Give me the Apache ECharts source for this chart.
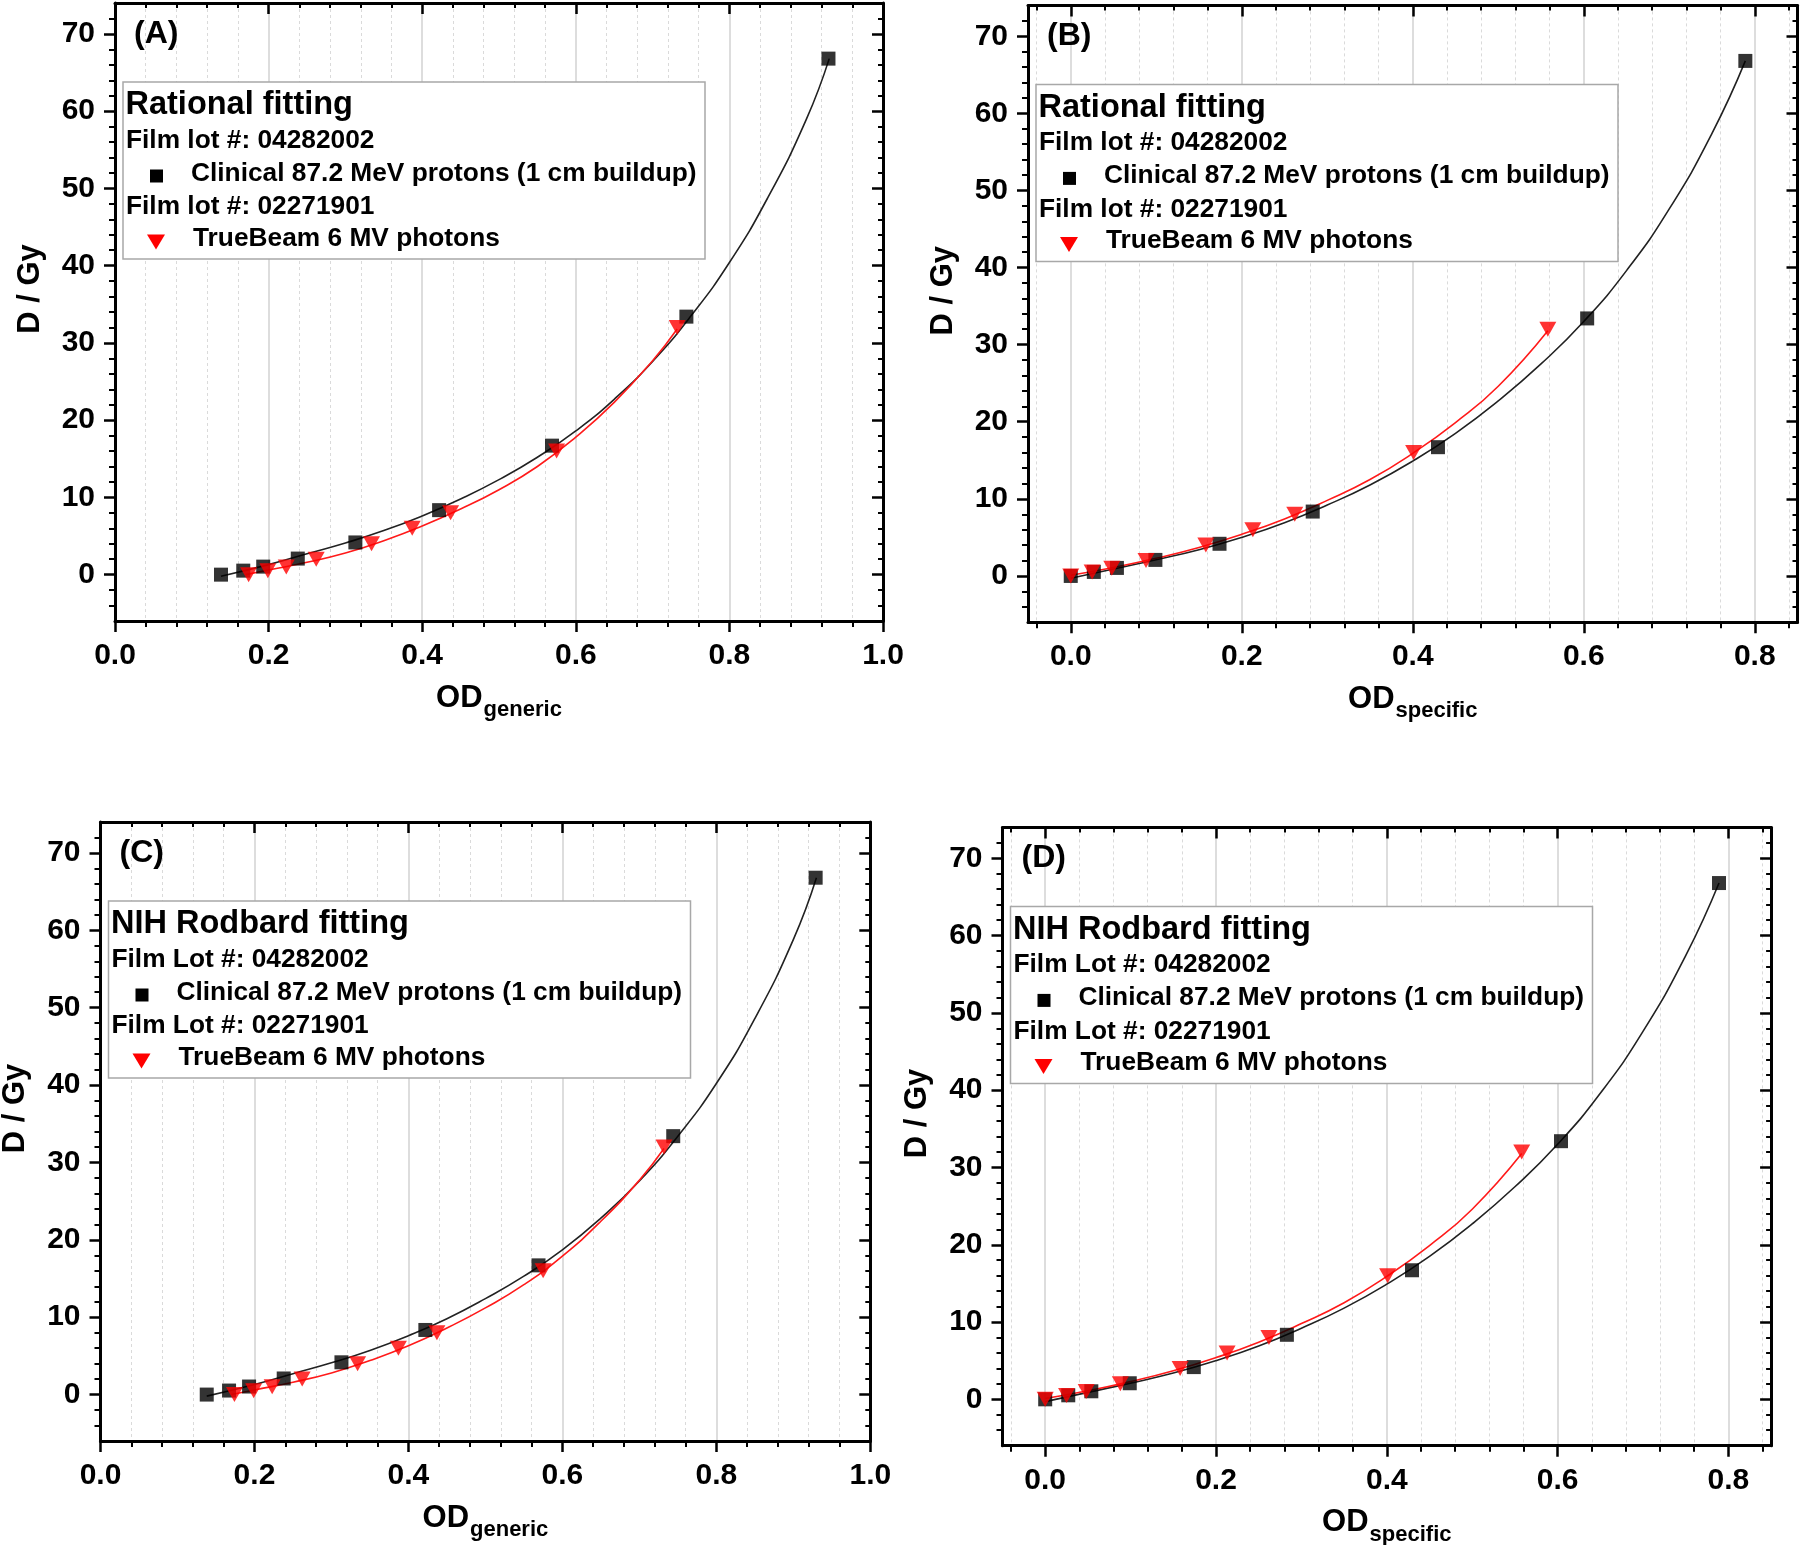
<!DOCTYPE html>
<html>
<head>
<meta charset="utf-8">
<script src="https://cdn.jsdelivr.net/npm/echarts@6/dist/echarts.min.js"></script>
<style>
html,body{margin:0;padding:0;background:#fff;}
#c{width:1800px;height:1545px;}
</style>
</head>
<body>
<div id="c"></div>
<script>
// ---------------- DATA ----------------
// Doses (Gy)
const protonDose = [0, 0.52, 1.04, 2.08, 4.17, 8.35, 16.7, 33.4, 66.8];
const photonDose = [0, 0.5, 1, 2, 4, 6, 8, 16, 32];

// Optical densities
const protonODGeneric  = [0.138, 0.167, 0.193, 0.238, 0.313, 0.422, 0.569, 0.744, 0.929];
const photonODGeneric  = [0.174, 0.199, 0.223, 0.262, 0.334, 0.387, 0.437, 0.575, 0.732];
const protonODSpecific = [0.0, 0.027, 0.054, 0.099, 0.174, 0.283, 0.4295, 0.604, 0.789];
const photonODSpecific = [0.0, 0.025, 0.048, 0.088, 0.158, 0.213, 0.262, 0.401, 0.558];

// Fitted curves
// (A) rational fit, generic OD
const fitA_protonOD = [0.138, 0.2, 0.25, 0.3, 0.35, 0.4, 0.45, 0.5, 0.55, 0.6, 0.65, 0.7, 0.75, 0.8, 0.85, 0.9, 0.93];
const fitA_protonD  = [-0.2, 1.3, 2.7, 4.1, 5.7, 7.6, 9.8, 12.3, 15.2, 18.6, 22.7, 27.6, 33.5, 40.4, 48.8, 58.9, 66.8];
const fitA_photonOD = [0.17, 0.2, 0.25, 0.3, 0.35, 0.4, 0.45, 0.5, 0.55, 0.6, 0.65, 0.7, 0.732];
const fitA_photonD  = [0.0, 0.6, 1.6, 2.8, 4.4, 6.3, 8.5, 11.0, 14.0, 17.8, 22.3, 27.7, 31.8];
// (B) rational fit, specific OD
const fitB_protonOD = [0.0, 0.05, 0.1, 0.15, 0.2, 0.25, 0.3, 0.35, 0.4, 0.45, 0.5, 0.55, 0.6, 0.65, 0.7, 0.75, 0.789];
const fitB_protonD  = [-0.3, 0.9, 2.1, 3.4, 5.0, 6.9, 9.2, 11.8, 14.9, 18.5, 22.7, 27.5, 33.0, 39.6, 47.6, 57.4, 66.8];
const fitB_photonOD = [0.0, 0.05, 0.1, 0.15, 0.2, 0.25, 0.3, 0.35, 0.4, 0.45, 0.5, 0.558];
const fitB_photonD  = [0.1, 1.1, 2.3, 3.7, 5.4, 7.4, 9.8, 12.5, 15.9, 19.9, 24.6, 31.8];
// (C) NIH Rodbard fit, generic OD
const fitC_protonOD = [0.138, 0.2, 0.25, 0.3, 0.35, 0.4, 0.45, 0.5, 0.55, 0.6, 0.65, 0.7, 0.75, 0.8, 0.85, 0.9, 0.93];
const fitC_protonD  = [-0.2, 1.3, 2.7, 4.1, 5.7, 7.6, 9.8, 12.4, 15.3, 18.7, 22.8, 27.6, 33.4, 40.2, 48.6, 58.8, 66.8];
const fitC_photonOD = [0.17, 0.2, 0.25, 0.3, 0.35, 0.4, 0.45, 0.5, 0.55, 0.6, 0.65, 0.7, 0.732];
const fitC_photonD  = [0.0, 0.6, 1.6, 2.8, 4.4, 6.3, 8.6, 11.2, 14.2, 17.9, 22.4, 27.7, 31.8];
// (D) NIH Rodbard fit, specific OD
const fitD_protonOD = [0.0, 0.05, 0.1, 0.15, 0.2, 0.25, 0.3, 0.35, 0.4, 0.45, 0.5, 0.55, 0.6, 0.65, 0.7, 0.75, 0.789];
const fitD_protonD  = [-0.3, 0.9, 2.1, 3.4, 5.0, 6.9, 9.2, 11.8, 14.9, 18.5, 22.7, 27.5, 33.0, 39.6, 47.6, 57.4, 66.8];
const fitD_photonOD = [0.0, 0.05, 0.1, 0.15, 0.2, 0.25, 0.3, 0.35, 0.4, 0.45, 0.5, 0.558];
const fitD_photonD  = [0.1, 1.1, 2.3, 3.7, 5.4, 7.4, 9.8, 12.5, 15.9, 19.9, 24.6, 31.8];

// Axis ranges and tick labels
const xRangeGeneric  = [0, 1.0];
const xRangeSpecific = [-0.05, 0.85];
const yRange = [-6, 74];
const xMajorGeneric  = [0, 0.2, 0.4, 0.6, 0.8, 1.0];
const xMajorSpecific = [0, 0.2, 0.4, 0.6, 0.8];
const yMajor = [0, 10, 20, 30, 40, 50, 60, 70];

// Texts
const panelLabels = ['(A)', '(B)', '(C)', '(D)'];
const fitTitles = ['Rational fitting', 'Rational fitting', 'NIH Rodbard fitting', 'NIH Rodbard fitting'];
const lotPrefix = ['Film lot #: ', 'Film lot #: ', 'Film Lot #: ', 'Film Lot #: '];
const lotProton = '04282002';
const lotPhoton = '02271901';
const protonName = 'Clinical 87.2 MeV protons (1 cm buildup)';
const photonName = 'TrueBeam 6 MV photons';
const yTitle = 'D / Gy';
const xSubs = ['generic', 'specific', 'generic', 'specific'];

// ---------------- LAYOUT ----------------
const FONT = "'Liberation Sans', Arial, Helvetica, sans-serif";
const layouts = [
  {left: 115,    top: 3,     width: 768,   height: 618},
  {left: 1028,   top: 5.4,   width: 769.5, height: 616.8},
  {left: 100.5,  top: 822,   width: 769.8, height: 619},
  {left: 1002.5, top: 827.4, width: 768.6, height: 618.3}
];

const panels = [
  {xRange: xRangeGeneric,  xMajor: xMajorGeneric,  pOD: protonODGeneric,  gOD: photonODGeneric,
   fpx: fitA_protonOD, fpy: fitA_protonD, fgx: fitA_photonOD, fgy: fitA_photonD},
  {xRange: xRangeSpecific, xMajor: xMajorSpecific, pOD: protonODSpecific, gOD: photonODSpecific,
   fpx: fitB_protonOD, fpy: fitB_protonD, fgx: fitB_photonOD, fgy: fitB_photonD},
  {xRange: xRangeGeneric,  xMajor: xMajorGeneric,  pOD: protonODGeneric,  gOD: photonODGeneric,
   fpx: fitC_protonOD, fpy: fitC_protonD, fgx: fitC_photonOD, fgy: fitC_photonD},
  {xRange: xRangeSpecific, xMajor: xMajorSpecific, pOD: protonODSpecific, gOD: photonODSpecific,
   fpx: fitD_protonOD, fpy: fitD_protonD, fgx: fitD_photonOD, fgy: fitD_photonD}
];

function minorTicks(range, step, majorStep) {
  const out = [];
  const k0 = Math.ceil(range[0] / step - 1e-9), k1 = Math.floor(range[1] / step + 1e-9);
  for (let k = k0; k <= k1; k++) {
    const v = +(k * step).toFixed(6);
    if (v <= range[0] + 1e-9 || v >= range[1] - 1e-9) continue;
    const r = v / majorStep;
    if (Math.abs(r - Math.round(r)) < 1e-6) continue;
    out.push(v);
  }
  return out;
}

const mctx = document.createElement('canvas').getContext('2d');
function textWidth(t, size) { mctx.font = 'bold ' + size + 'px ' + FONT; return mctx.measureText(t).width; }

const option = {
  backgroundColor: '#fff',
  animation: false,
  grid: [], xAxis: [], yAxis: [], series: [],
  graphic: {elements: []}
};

const AXLINE = {show: true, onZero: false, lineStyle: {color: '#000', width: 3}};
const tickStyle = {color: '#000', width: 2.5};
const labelStyle = {show: true, color: '#000', fontSize: 30, fontWeight: 'bold', fontFamily: FONT};

panels.forEach((p, i) => {
  const L = layouts[i];
  option.grid.push({left: L.left, top: L.top, width: L.width, height: L.height, containLabel: false, outerBoundsMode: 'none'});
  const xMinor = minorTicks(p.xRange, 0.04, 0.2);
  const yMinor = minorTicks(yRange, 2, 10);

  const base = (pos, mn, mx, extra) => Object.assign({
    type: 'value', gridIndex: i, position: pos, min: mn, max: mx, silent: true,
    axisLine: {show: false, onZero: false}, axisTick: {show: false}, axisLabel: {show: false},
    splitLine: {show: false}, minorTick: {show: false}, minorSplitLine: {show: false}
  }, extra);
  const xa = (pos, extra) => base(pos, p.xRange[0], p.xRange[1], extra);
  const ya = (pos, extra) => base(pos, yRange[0], yRange[1], extra);

  // x axes: bottom major, bottom minor, top major, top minor
  option.xAxis.push(xa('bottom', {
    axisLine: AXLINE,
    axisTick: {show: true, inside: false, length: 11, customValues: p.xMajor, lineStyle: tickStyle},
    axisLabel: Object.assign({}, labelStyle, {customValues: p.xMajor, margin: 20, formatter: v => (+v).toFixed(1)}),
    splitLine: {show: true, lineStyle: {color: '#d2d2d2', width: 1.5}}
  }));
  option.xAxis.push(xa('bottom', {
    axisTick: {show: true, inside: false, length: 6, customValues: xMinor, lineStyle: {color: '#000', width: 2}},
    splitLine: {show: true, lineStyle: {color: '#dadada', width: 1, type: [3, 3]}}
  }));
  option.xAxis.push(xa('top', {
    axisLine: AXLINE,
    axisTick: {show: true, inside: true, length: 11, customValues: p.xMajor, lineStyle: tickStyle}
  }));
  option.xAxis.push(xa('top', {
    axisTick: {show: true, inside: true, length: 5, customValues: xMinor, lineStyle: {color: '#000', width: 2}}
  }));

  // y axes: left major, left minor, right major, right minor
  option.yAxis.push(ya('left', {
    axisLine: AXLINE,
    axisTick: {show: true, inside: false, length: 11, customValues: yMajor, lineStyle: tickStyle},
    axisLabel: Object.assign({}, labelStyle, {customValues: yMajor, margin: 20, formatter: v => String(Math.round(v))})
  }));
  option.yAxis.push(ya('left', {
    axisTick: {show: true, inside: false, length: 6, customValues: yMinor, lineStyle: {color: '#000', width: 2}}
  }));
  option.yAxis.push(ya('right', {
    axisLine: AXLINE,
    axisTick: {show: true, inside: true, length: 11, customValues: yMajor, lineStyle: tickStyle}
  }));
  option.yAxis.push(ya('right', {
    axisTick: {show: true, inside: true, length: 5, customValues: yMinor, lineStyle: {color: '#000', width: 2}}
  }));

  const xi = i * 4, yi = i * 4;
  option.series.push({
    type: 'line', xAxisIndex: xi, yAxisIndex: yi, smooth: 0.5, showSymbol: false, z: 2, silent: true,
    lineStyle: {color: '#222', width: 1.6},
    data: p.fpx.map((x, k) => [x, p.fpy[k]])
  });
  option.series.push({
    type: 'line', xAxisIndex: xi, yAxisIndex: yi, smooth: 0.5, showSymbol: false, z: 2, silent: true,
    lineStyle: {color: '#ff1a1a', width: 1.6},
    data: p.fgx.map((x, k) => [x, p.fgy[k]])
  });
  option.series.push({
    type: 'scatter', xAxisIndex: xi, yAxisIndex: yi, symbol: 'rect', symbolSize: 14, z: 3, silent: true,
    itemStyle: {color: '#000'},
    data: p.pOD.map((x, k) => [x, protonDose[k]])
  });
  option.series.push({
    type: 'scatter', xAxisIndex: xi, yAxisIndex: yi, symbol: 'triangle', symbolRotate: 180, symbolSize: [17, 15], z: 4, silent: true,
    itemStyle: {color: '#ff0000'},
    data: p.gOD.map((x, k) => [x, photonDose[k]])
  });

  // ---- texts / legend (graphic) ----
  const G = option.graphic.elements;
  const txt = (x, y, text, size, extra) => Object.assign({
    type: 'text', x: x, y: y, z: 100, silent: true,
    style: {text: text, fontSize: size, fontWeight: 'bold', fontFamily: FONT, fill: '#000', align: 'left', verticalAlign: 'middle'}
  }, extra || {});

  // panel label
  G.push(txt(L.left + 19, L.top + 31, panelLabels[i], 32));

  // legend box
  const bx = L.left + 8, by = L.top + 79, bw = 582, bh = 177;
  G.push({type: 'rect', z: 90, silent: true, shape: {x: bx, y: by, width: bw, height: bh},
          style: {fill: '#fff', stroke: '#a8a8a8', lineWidth: 1.5}});
  G.push(txt(bx + 2.5, by + 23.5, fitTitles[i], 32.5));
  G.push(txt(bx + 3, by + 58.5, lotPrefix[i] + lotProton, 26.3));
  G.push({type: 'rect', z: 100, silent: true, shape: {x: bx + 33.5 - 6.5, y: by + 94 - 6.5, width: 13, height: 13}, style: {fill: '#000'}});
  G.push(txt(bx + 68, by + 91.5, protonName, 26.3));
  G.push(txt(bx + 3, by + 125, lotPrefix[i] + lotPhoton, 26.3));
  G.push({type: 'polygon', z: 100, silent: true,
          shape: {points: [[bx + 33 - 9, by + 160 - 7.5], [bx + 33 + 9, by + 160 - 7.5], [bx + 33, by + 160 + 7.5]]},
          style: {fill: '#ff0000'}});
  G.push(txt(bx + 70, by + 156.5, photonName, 26.3));

  // y title (rotated)
  G.push({type: 'text', x: L.left - 85, y: L.top + L.height / 2 - 23, rotation: Math.PI / 2, z: 100, silent: true,
          style: {text: yTitle, fontSize: 31, fontWeight: 'bold', fontFamily: FONT, fill: '#000', align: 'center', verticalAlign: 'middle'}});

  // x title OD_sub
  const wOD = textWidth('OD', 31), wSub = textWidth(xSubs[i], 22);
  const cx = L.left + L.width / 2;
  const x0 = cx - (wOD + 1 + wSub) / 2;
  const gb = L.top + L.height;
  G.push(txt(x0, gb + 77, 'OD', 31));
  G.push(txt(x0 + wOD + 1, gb + 89, xSubs[i], 22));
});

const chart = echarts.init(document.getElementById('c'), null, {renderer: 'canvas', width: 1800, height: 1545});
chart.setOption(option);
</script>
</body>
</html>
